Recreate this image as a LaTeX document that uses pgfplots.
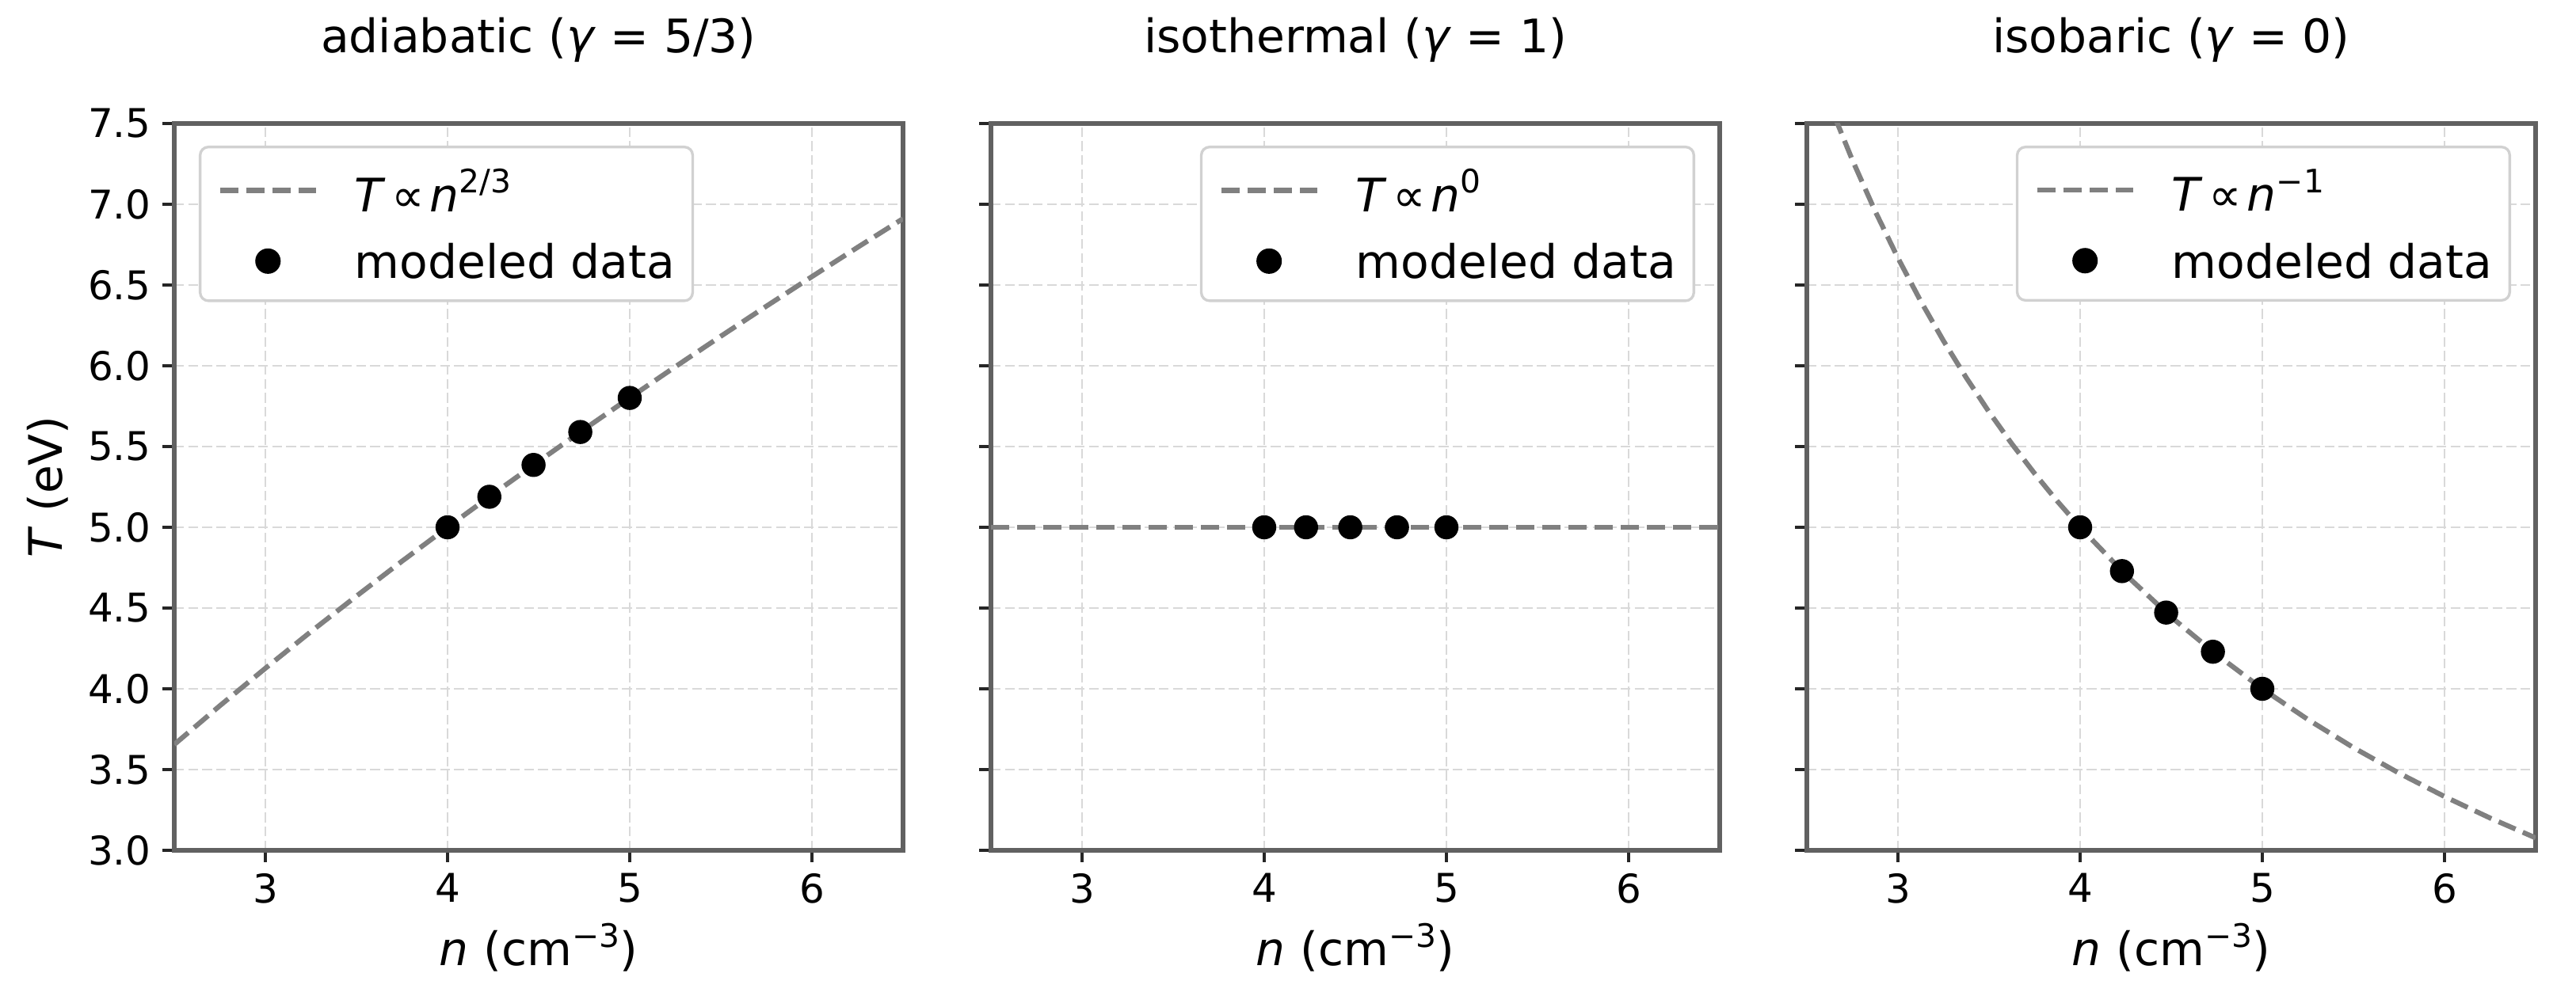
\documentclass[border=0pt]{standalone}
\usepackage{fontspec}
\setmainfont{DejaVu Sans}
\usepackage{pgfplots}
\pgfplotsset{compat=1.18}
\usepackage{pgfplotstable}

\definecolor{spine}{gray}{0.38}
\definecolor{curve}{gray}{0.5}
\definecolor{gridc}{gray}{0.85}
\definecolor{legedge}{gray}{0.82}

\newcommand\sups[1]{\raisebox{0.4em}{\fontsize{9.8}{10}\selectfont #1}}
\newcommand\fl{\fontsize{14}{16.8}\selectfont}
\newcommand\ft{\fontsize{12}{14.4}\selectfont}
\newcommand\prop{\hspace{0.12em}∝\hspace{0.12em}}

% fitted curves
\pgfplotstableread{
n T
2.5 3.655
2.75 3.895
3 4.127
3.25 4.354
3.5 4.574
3.75 4.790
4 5.000
4.25 5.206
4.5 5.408
4.75 5.607
5 5.802
5.25 5.994
5.5 6.183
5.75 6.369
6 6.552
6.25 6.733
6.5 6.911
}\adiabcurve

\pgfplotstableread{
n T
2.5 5
6.5 5
}\isocurve

\pgfplotstableread{
n T
2.5 8.000
2.625 7.619
2.75 7.273
2.875 6.957
3 6.667
3.125 6.400
3.25 6.154
3.375 5.926
3.5 5.714
3.625 5.517
3.75 5.333
3.875 5.161
4 5.000
4.25 4.706
4.5 4.444
4.75 4.211
5 4.000
5.25 3.810
5.5 3.636
5.75 3.478
6 3.333
6.25 3.200
6.5 3.077
}\isobcurve

% modeled data
\pgfplotstableread{
n T
4 5.000
4.2295 5.189
4.4721 5.386
4.7287 5.590
5 5.801
}\adiabdata

\pgfplotstableread{
n T
4 5
4.2295 5
4.4721 5
4.7287 5
5 5
}\isodata

\pgfplotstableread{
n T
4 5.000
4.2295 4.7287
4.4721 4.4721
4.7287 4.2295
5 4.000
}\isobdata

\pgfplotsset{
  panel/.style={
    scale only axis, width=220.8pt, height=220.32pt,
    anchor=south west,
    xmin=2.5, xmax=6.5, ymin=3, ymax=7.5,
    xtick={3,4,5,6},
    ytick={3.0,3.5,4.0,4.5,5.0,5.5,6.0,6.5,7.0,7.5},
    axis line style={draw=spine, line width=1.25pt},
    tick align=outside, major tick length=3.5pt,
    tick style={black!85, line width=0.9pt},
    xtick pos=left, ytick pos=left,
    grid=major,
    major grid style={gridc, line width=0.7pt, dash pattern=on 2.96pt off 1.28pt},
    ticklabel style={font=\ft},
    /pgf/number format/assume math mode=true,
    yticklabel style={/pgf/number format/fixed, /pgf/number format/fixed zerofill, /pgf/number format/precision=1},
    title style={font=\fl, at={(0.5,1)}, anchor=base, yshift=15.36pt},
    xlabel style={font=\fl, at={(axis description cs:0.5,-0.1589)}, anchor=base},
    ylabel style={font=\fl, at={(axis description cs:-0.174,0.5)}, anchor=center},
    xlabel={\textit{n} (cm\sups{−3})},
    legend cell align=left,
    legend style={font=\fl, draw=legedge, line width=0.8pt, rounded corners=2.5pt,
      fill=white, inner xsep=5.3pt, inner ysep=6.7pt, row sep=9.7pt, column sep=0pt,
      cells={anchor=west}, nodes={inner sep=0pt, text depth=0pt}},
  },
  curvestyle/.style={curve, line width=1.5pt, dash pattern=on 5.55pt off 2.4pt,
    legend image code/.code={\path[draw=none, fill=none] (0pt,-3.5pt) rectangle (40.8pt,3.5pt);
      \draw[##1, rounded corners=0pt] (0pt,0pt) -- (29pt,0pt);}},
  datastyle/.style={only marks, mark=*, mark size=3.45pt, black, mark options={fill=black, draw=black},
    legend image code/.code={\path[draw=none, fill=none] (0pt,-3.5pt) rectangle (40.8pt,3.5pt);
      \draw[##1] plot coordinates {(14.5pt,0pt)};}},
}

\begin{document}
\begin{tikzpicture}
\path[use as bounding box] (0pt,0pt) rectangle (780.48pt,301.92pt);

\begin{axis}[panel, at={(52.8pt,44.16pt)},
  title={adiabatic (\textit{γ} = 5/3)},
  ylabel={\textit{T} (eV)},
  legend style={at={(0,1)}, anchor=north west, xshift=7.44pt, yshift=-6.72pt}]
\addplot[curvestyle] table[x=n,y=T] {\adiabcurve};
\addlegendentry{\textit{T}\prop\textit{n}\sups{2/3}}
\addplot[datastyle] table[x=n,y=T] {\adiabdata};
\addlegendentry{modeled data}
\end{axis}

\begin{axis}[panel, at={(300.24pt,44.16pt)},
  title={isothermal (\textit{γ} = 1)},
  yticklabels={},
  legend style={at={(1,1)}, anchor=north east, xshift=-7.44pt, yshift=-6.72pt}]
\addplot[curvestyle] table[x=n,y=T] {\isocurve};
\addlegendentry{\textit{T}\prop\textit{n}\sups{0}}
\addplot[datastyle] table[x=n,y=T] {\isodata};
\addlegendentry{modeled data}
\end{axis}

\begin{axis}[panel, at={(547.44pt,44.16pt)},
  title={isobaric (\textit{γ} = 0)},
  yticklabels={},
  legend style={at={(1,1)}, anchor=north east, xshift=-7.44pt, yshift=-6.72pt}]
\addplot[curvestyle] table[x=n,y=T] {\isobcurve};
\addlegendentry{\textit{T}\prop\textit{n}\sups{−1}}
\addplot[datastyle] table[x=n,y=T] {\isobdata};
\addlegendentry{modeled data}
\end{axis}
\end{tikzpicture}
\end{document}
